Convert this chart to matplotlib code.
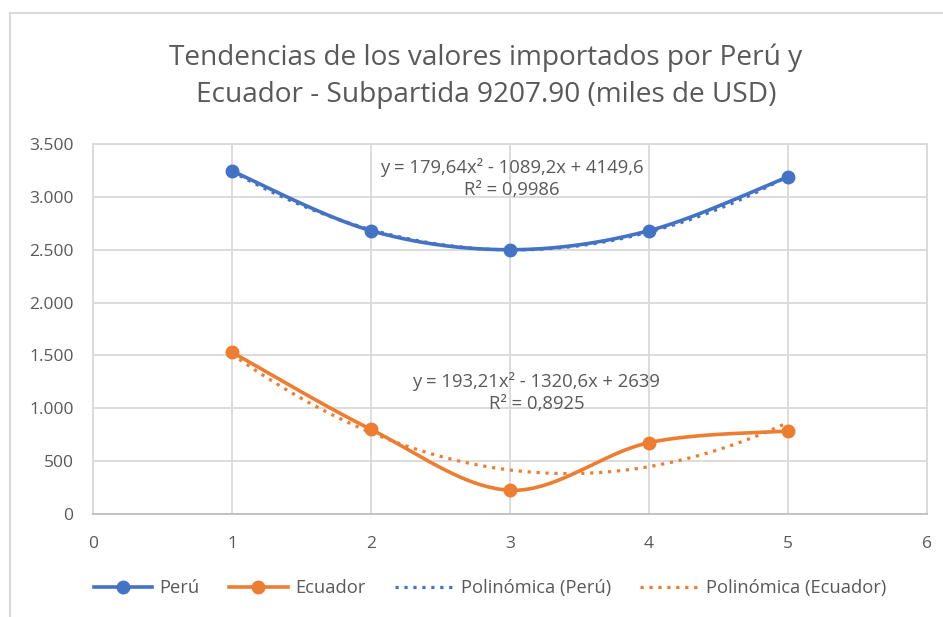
import numpy as np
import matplotlib
matplotlib.use("Agg")
import matplotlib.pyplot as plt
from matplotlib.lines import Line2D

# ---- data ----
x_vals = [1, 2, 3, 4, 5]
peru = [3245, 2680, 2500, 2680, 3190]
ecuador = [1530, 800, 225, 675, 785]
coef_peru = [179.64, -1089.2, 4149.6]
coef_ecuador = [193.21, -1320.6, 2639]
eq_peru = "y = 179,64x² - 1089,2x + 4149,6\nR² = 0,9986"
eq_ecuador = "y = 193,21x² - 1320,6x + 2639\nR² = 0,8925"
y_ticks = [0, 500, 1000, 1500, 2000, 2500, 3000, 3500]
y_labels = ["0", "500", "1.000", "1.500", "2.000", "2.500", "3.000", "3.500"]
x_ticks = [0, 1, 2, 3, 4, 5, 6]
title = "Tendencias de los valores importados por Perú y\nEcuador - Subpartida 9207.90 (miles de USD)"
legend_labels = ["Perú", "Ecuador", "Polinómica (Perú)", "Polinómica (Ecuador)"]

BLUE = "#4472C4"
ORANGE = "#ED7D31"
GRAY = "#595959"
GRID = "#D9D9D9"
FONT = "Open Sans"

plt.rcParams["font.family"] = [FONT, "DejaVu Sans"]

DOT = (0, (1, 1.8))


def catmull_rom(xs, ys, n=40):
    xs = np.asarray(xs, float)
    ys = np.asarray(ys, float)
    px = np.concatenate([[xs[0]], xs, [xs[-1]]])
    py = np.concatenate([[ys[0]], ys, [ys[-1]]])
    outx, outy = [], []
    t = np.linspace(0, 1, n)
    for i in range(1, len(px) - 2):
        p0x, p1x, p2x, p3x = px[i - 1], px[i], px[i + 1], px[i + 2]
        p0y, p1y, p2y, p3y = py[i - 1], py[i], py[i + 1], py[i + 2]
        c1x = p1x + (p2x - p0x) / 6
        c1y = p1y + (p2y - p0y) / 6
        c2x = p2x - (p3x - p1x) / 6
        c2y = p2y - (p3y - p1y) / 6
        bx = (1 - t) ** 3 * p1x + 3 * (1 - t) ** 2 * t * c1x + 3 * (1 - t) * t ** 2 * c2x + t ** 3 * p2x
        by = (1 - t) ** 3 * p1y + 3 * (1 - t) ** 2 * t * c1y + 3 * (1 - t) * t ** 2 * c2y + t ** 3 * p2y
        outx.append(bx)
        outy.append(by)
    return np.concatenate(outx), np.concatenate(outy)


fig = plt.figure(figsize=(9.43, 6.17), dpi=100)
ax = fig.add_axes([93 / 943, (617 - 514) / 617, (927 - 93) / 943, (514 - 144) / 617])

# chart border (left and top visible)
fig.add_artist(Line2D([10 / 943, 10 / 943], [0, 1 - 13 / 617], color=GRID, lw=1.5, transform=fig.transFigure))
fig.add_artist(Line2D([10 / 943, 1], [1 - 13 / 617, 1 - 13 / 617], color=GRID, lw=1.5, transform=fig.transFigure))

xt = np.linspace(1, 5, 300)
for coef, col in [(coef_peru, BLUE), (coef_ecuador, ORANGE)]:
    ax.plot(xt, np.polyval(coef, xt), color=col, lw=2.3, linestyle=DOT,
            dash_capstyle="butt", zorder=3)

for data, col in [(peru, BLUE), (ecuador, ORANGE)]:
    sx, sy = catmull_rom(x_vals, data)
    ax.plot(sx, sy, color=col, lw=2.6, zorder=4, solid_capstyle="round")
    ax.plot(x_vals, data, "o", color=col, ms=9, zorder=5)

ax.set_xlim(0, 6)
ax.set_ylim(0, 3500)
ax.set_xticks(x_ticks)
ax.set_yticks(y_ticks)
ax.set_yticklabels(y_labels)
ax.grid(True, color=GRID, lw=1.3)
ax.set_axisbelow(True)
for s in ["top", "right", "left", "bottom"]:
    ax.spines[s].set_color(GRID)
    ax.spines[s].set_linewidth(1.3)
ax.spines["bottom"].set_color("#BFBFBF")
ax.tick_params(length=0, labelsize=12.5, colors=GRAY)
ax.tick_params(axis="y", pad=14)
ax.tick_params(axis="x", pad=16)

ax.text(3.01, 3170, eq_peru, ha="center", va="center", fontsize=13.3, color=GRAY,
        linespacing=1.3, zorder=6)
ax.text(3.19, 1146, eq_ecuador, ha="center", va="center", fontsize=13.3, color=GRAY,
        linespacing=1.3, zorder=6)

fig.text(486 / 943, 1 - 76 / 617, title, ha="center", va="center", fontsize=20.2,
         color=GRAY, linespacing=1.45)

handles = [
    Line2D([], [], color=BLUE, lw=2.6, marker="o", ms=9),
    Line2D([], [], color=ORANGE, lw=2.6, marker="o", ms=9),
    Line2D([], [], color=BLUE, lw=2.3, linestyle=DOT, dash_capstyle="butt"),
    Line2D([], [], color=ORANGE, lw=2.3, linestyle=DOT, dash_capstyle="butt"),
]
leg = fig.legend(handles, legend_labels, loc="center", bbox_to_anchor=(490 / 943, 1 - 588 / 617),
                 ncol=4, frameon=False, fontsize=13.2, handlelength=3.2, handletextpad=0.4,
                 columnspacing=1.6, labelcolor=GRAY)

fig.savefig("out.png", dpi=100)
